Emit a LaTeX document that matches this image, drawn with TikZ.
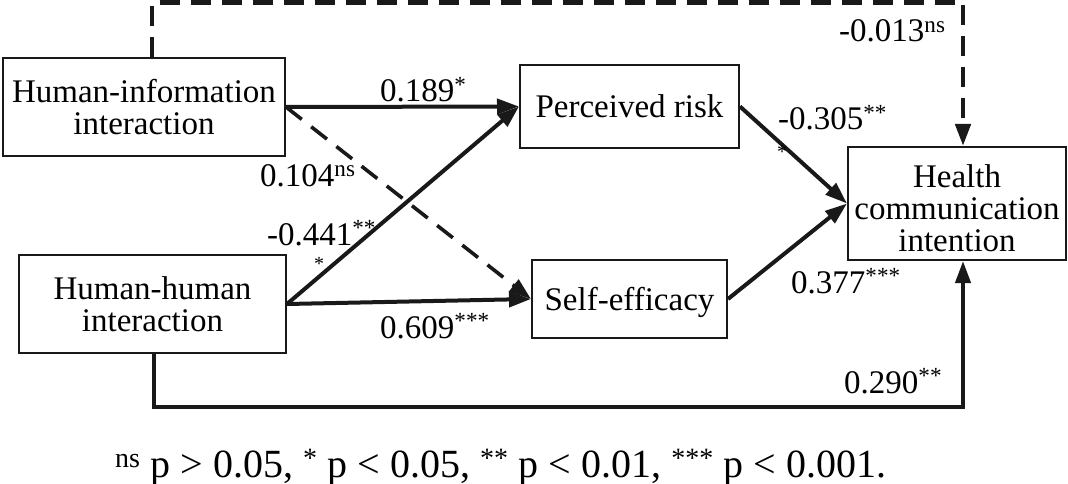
\documentclass[tikz,border=0pt]{standalone}
\usepackage{fontspec}
\setmainfont{Liberation Serif}
\usetikzlibrary{arrows.meta}
\begin{document}
\begin{tikzpicture}[x=1pt,y=-1pt,
  box/.style={draw=black!90, line width=2pt, inner sep=0pt, align=center,
    font=\fontsize{33}{32}\selectfont},
  arr/.style={draw=black!90, line width=4pt, -{Triangle[length=22pt,width=15pt]}},
  dsh/.style={dash pattern=on 20pt off 11pt},
  lab/.style={anchor=base west, inner sep=0pt, font=\fontsize{33}{32}\selectfont},
  star/.style={anchor=base, inner sep=0pt, font=\fontsize{20}{20}\selectfont}]
\useasboundingbox (0,0) rectangle (1068,484);
% boxes
\node[box, minimum width=282pt, minimum height=98pt] (hii) at (144,107) {Human-information\\interaction};
\node[box, minimum width=267pt, minimum height=98pt] (hhi) at (152.5,304) {Human-human\\interaction};
\node[box, minimum width=219pt, minimum height=83pt] (pr) at (629.5,106.5) {Perceived risk};
\node[box, minimum width=195pt, minimum height=78pt, text depth=0pt] (se) at (629.5,299) {Self-efficacy};
\node[box, minimum width=218pt, minimum height=113pt] (hci) at (957,203.5) {\rule{0pt}{32pt}Health\\communication\\intention};
% helper coordinates
\coordinate (tl) at (152,2.5);
\coordinate (tr) at (963,2.5);
\coordinate (bl) at (154,407);
\coordinate (br) at (963,407);
% connectors
\draw[arr] (hii.east) -- (pr.west);
\draw[arr] (hhi.east) -- (pr.west);
\draw[arr] (hhi.east) -- (se.west);
\draw[arr, dash pattern=on 20pt off 12pt, line width=3.6pt] (hii.east) -- (se.west);
\draw[arr] (pr.east) -- (hci.west);
\draw[arr] (se.east) -- (hci.west);
\draw[arr, dsh, line width=4.5pt] (hii.north -| tl) -- (tl) -- (tr) -- (hci.north -| tr);
\draw[arr] (hhi.south -| bl) -- (bl) -- (br) -- (hci.south -| br);
% labels
\node[lab] (l1) at (380,102) {0.189\textsuperscript{*}};
\node[lab] (l2) at (260,186) {0.104\textsuperscript{ns}};
\node[lab] (l3) at (267,245) {-0.441\textsuperscript{**}};
\node[star] (l3b) at (319,270) {*};
\node[lab] (l4) at (380,338) {0.609\textsuperscript{***}};
\node[lab] (l5) at (839,42) {-0.013\textsuperscript{ns}};
\node[lab] (l6) at (778,130) {-0.305\textsuperscript{**}};
\node[star] (l6b) at (782,158) {*};
\node[lab] (l7) at (791,293) {0.377\textsuperscript{***}};
\node[lab] (l8) at (844,393) {0.290\textsuperscript{**}};
\node[lab, font=\fontsize{40}{40}\selectfont] (fn) at (115,477) {\textsuperscript{ns} p > 0.05, \textsuperscript{*} p < 0.05, \textsuperscript{**} p < 0.01, \textsuperscript{***} p < 0.001.};
\end{tikzpicture}
\end{document}
